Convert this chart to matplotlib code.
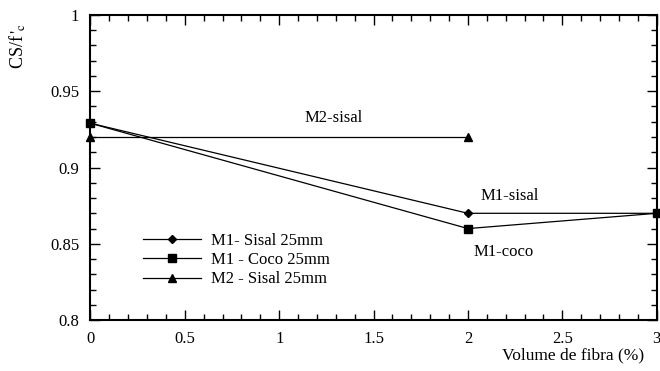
import matplotlib
matplotlib.use("Agg")
import matplotlib.pyplot as plt
from matplotlib.ticker import MultipleLocator, FuncFormatter

plt.rcParams['font.family'] = ['Liberation Serif', 'DejaVu Serif']
plt.rcParams['mathtext.fontset'] = 'stix'

x_m1 = [0, 2, 3]
m1_sisal = [0.929, 0.870, 0.870]
m1_coco = [0.929, 0.860, 0.870]
x_m2 = [0, 2]
m2_sisal = [0.920, 0.920]

labels = ["M1- Sisal 25mm", "M1 - Coco 25mm", "M2 - Sisal 25mm"]

fig = plt.figure(figsize=(6.6, 3.71), dpi=100)
ax = fig.add_axes([0.137, 0.137, 0.858, 0.823])

ax.plot(x_m1, m1_sisal, color='black', lw=0.9, marker='D', ms=4.5, label=labels[0])
ax.plot(x_m1, m1_coco, color='black', lw=0.9, marker='s', ms=6, label=labels[1])
ax.plot(x_m2, m2_sisal, color='black', lw=0.9, marker='^', ms=6, label=labels[2])
for l in ax.lines:
    l.set_clip_on(False)

ax.set_xlim(0, 3)
ax.set_ylim(0.8, 1.0)
ax.xaxis.set_major_locator(MultipleLocator(0.5))
ax.xaxis.set_minor_locator(MultipleLocator(0.1))
ax.yaxis.set_major_locator(MultipleLocator(0.05))
ax.yaxis.set_minor_locator(MultipleLocator(0.01))
ax.xaxis.set_major_formatter(FuncFormatter(lambda v, p: f"{v:g}"))
ax.yaxis.set_major_formatter(FuncFormatter(lambda v, p: f"{v:g}"))
ax.tick_params(which='both', direction='in', top=True, right=True, labelsize=12, pad=8, width=1)
ax.tick_params(which='major', length=7)
ax.tick_params(which='minor', length=4)
for s in ax.spines.values():
    s.set_linewidth(1.5)

ax.text(1.29, 0.9325, "M2-sisal", fontsize=12, ha='center', va='center')
ax.text(2.22, 0.8813, "M1-sisal", fontsize=12, ha='center', va='center')
ax.text(2.19, 0.8446, "M1-coco", fontsize=12, ha='center', va='center')

fig.text(0.976, 0.043, "Volume de fibra (%)", fontsize=12.5, ha='right', va='center')
fig.text(0.027, 0.875, r"CS/f$\,'_{\mathrm{c}}$", fontsize=13, rotation=90, ha='center', va='center')

leg = ax.legend(loc='center left', bbox_to_anchor=(143/660, 1 - 260/371), bbox_transform=fig.transFigure,
                frameon=False, fontsize=12, handlelength=3.5, labelspacing=0.2,
                handletextpad=0.6, borderpad=0, borderaxespad=0)

fig.savefig("out.png", dpi=100)
